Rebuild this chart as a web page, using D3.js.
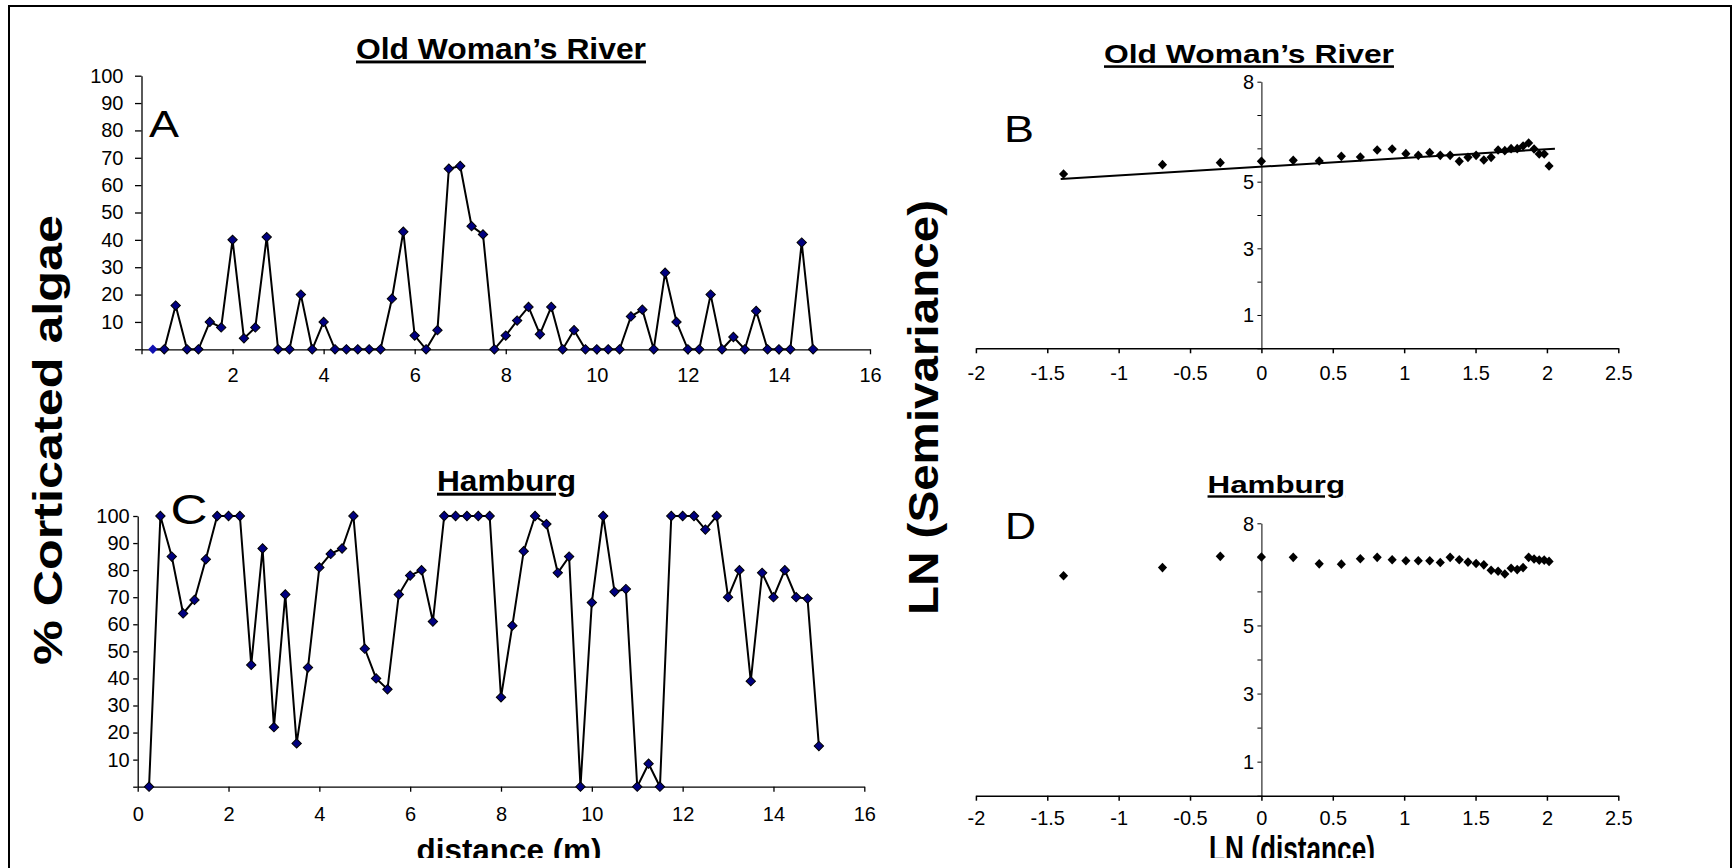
<!DOCTYPE html>
<html><head><meta charset="utf-8">
<script src="https://cdn.jsdelivr.net/npm/d3@7"></script>
<style>
body{margin:0;background:#fff;}
svg{display:block;}
text{font-family:"Liberation Sans",Arial,Helvetica,sans-serif;}
</style></head><body>
<svg id="c" width="1734" height="868"></svg>
<script>
// ---------- data ----------
const distA = [0.25,0.5,0.75,1,1.25,1.5,1.75,2,2.25,2.5,2.75,3,3.25,3.5,3.75,4,4.25,4.5,4.75,5,5.25,5.5,5.75,6,6.25,6.5,6.75,7,7.25,7.5,7.75,8,8.25,8.5,8.75,9,9.25,9.5,9.75,10,10.25,10.5,10.75,11,11.25,11.5,11.75,12,12.25,12.5,12.75,13,13.25,13.5,13.75,14,14.25,14.5,14.75];
const valA  = [0,0,16,0,0,10,8,40,4,8,41,0,0,20,0,10,0,0,0,0,0,18.5,43,5,0,7,66,67,45,42,0,5,10.5,15.5,5.5,15.5,0,7,0,0,0,0,12,14.5,0,28,10,0,0,20,0,4.5,0,14,0,0,0,39,0];
const distC = [0.25,0.5,0.75,1,1.25,1.5,1.75,2,2.25,2.5,2.75,3,3.25,3.5,3.75,4,4.25,4.5,4.75,5,5.25,5.5,5.75,6,6.25,6.5,6.75,7,7.25,7.5,7.75,8,8.25,8.5,8.75,9,9.25,9.5,9.75,10,10.25,10.5,10.75,11,11.25,11.5,11.75,12,12.25,12.5,12.75,13,13.25,13.5,13.75,14,14.25,14.5,14.75,15];
const valC  = [0,100,85,64,69,84,100,100,100,45,88,22,71,16,44,81,86,88,100,51,40,36,71,78,80,61,100,100,100,100,100,33,59.5,87,100,97,79,85,0,68,100,72,73,0,8.5,0,100,100,100,95,100,70,80,39,79,70,80,70,69.5,15];
const lnDist = [-1.386,-0.693,-0.288,0,0.223,0.405,0.560,0.693,0.811,0.916,1.012,1.099,1.179,1.253,1.322,1.386,1.447,1.504,1.558,1.609,1.658,1.705,1.749,1.792,1.833,1.872,1.910,1.946,1.981,2.015];
const semivarB = [5.23,5.51,5.57,5.61,5.64,5.62,5.76,5.74,5.95,5.98,5.84,5.79,5.87,5.79,5.79,5.61,5.73,5.79,5.65,5.73,5.95,5.93,5.99,5.99,6.07,6.16,5.98,5.83,5.83,5.47];
const semivarD = [6.46,6.70,7.03,7.01,7.00,6.81,6.80,6.96,7.00,6.93,6.90,6.90,6.90,6.85,7.00,6.93,6.86,6.82,6.78,6.62,6.59,6.51,6.68,6.64,6.70,7.00,6.95,6.92,6.92,6.88];
const trendBX = [-1.406, 2.056];
const trendBY = [5.08, 5.99];
const pctTicks = [0,10,20,30,40,50,60,70,80,90,100];
const distTicks = [0,2,4,6,8,10,12,14,16];
const lnTicks = [-2,-1.5,-1,-0.5,0,0.5,1,1.5,2,2.5];
const semiTicks = [0,1,2,3,4,5,6,7,8];
const semiLabels = [1,3,5,8];

// ---------- drawing ----------
const svg = d3.select("#c");
svg.append("defs").append("clipPath").attr("id","bot")
  .append("rect").attr("x",0).attr("y",0).attr("width",1734).attr("height",858);

svg.append("rect").attr("x",9).attr("y",6).attr("width",1722).attr("height",900)
  .attr("fill","none").attr("stroke","#000").attr("stroke-width",2);

function styleAxis(g, sw, fs, sx){
  g.attr("font-family",null).attr("font-size",null);
  g.selectAll("path.domain").attr("stroke","#000").attr("stroke-width",sw);
  g.selectAll(".tick line").attr("stroke","#000").attr("stroke-width",sw);
  g.selectAll(".tick text").attr("fill","#000").attr("font-size",fs)
    .attr("transform", sx ? `scale(${sx},1)` : null);
}

const sq = d3.symbol().type(d3.symbolSquare).size(44);

function leftPanel(cfg){
  const x = d3.scaleLinear().domain([0,16]).range(cfg.xr);
  const y = d3.scaleLinear().domain([0,100]).range(cfg.yr);
  const g = svg.append("g");
  const ya = d3.axisLeft(y).tickValues(pctTicks).tickFormat(d => d===0 ? "" : String(d))
      .tickSize(cfg.yts).tickPadding(cfg.ytp).tickSizeOuter(0);
  const gy = g.append("g").attr("transform",`translate(${x(0)},0)`).call(ya);
  styleAxis(gy, 1.3, 20);
  const xa = d3.axisBottom(x).tickValues(distTicks)
      .tickFormat(d => (d===0 && !cfg.zero) ? "" : String(d))
      .tickSize(5).tickPadding(cfg.xtp).tickSizeOuter(0);
  const gx = g.append("g").attr("transform",`translate(0,${y(0)})`).call(xa);
  styleAxis(gx, 1.3, 20);
  const pts = cfg.xs.map((d,i)=>[d, cfg.ys[i]]);
  g.append("path").datum(pts)
    .attr("d", d3.line().x(d=>x(d[0])).y(d=>y(d[1])))
    .attr("fill","none").attr("stroke","#000").attr("stroke-width",2);
  g.selectAll("path.m").data(pts).join("path").attr("class","m")
    .attr("d", sq)
    .attr("transform", d=>`translate(${x(d[0])},${y(d[1])}) rotate(45)`)
    .attr("fill", (d,i)=> (cfg.firstPlain && i===0) ? "#1010b0" : "#000080")
    .attr("stroke", (d,i)=> (cfg.firstPlain && i===0) ? "none" : "#000")
    .attr("stroke-width",1);
}

function rightPanel(cfg){
  const x = d3.scaleLinear().domain([-2,2.5]).range([975.9,1618.3]);
  const y = d3.scaleLinear().domain([0,8]).range(cfg.yr);
  const g = svg.append("g");
  const xa = d3.axisBottom(x).tickValues(lnTicks).tickFormat(d=>String(d))
      .tickSize(5).tickPadding(cfg.xtp).tickSizeOuter(0);
  const gx = g.append("g").attr("transform",`translate(0,${y(0)})`).call(xa);
  styleAxis(gx, 1.5, 21, 0.95);
  const ya = d3.axisLeft(y).tickValues(semiTicks)
      .tickFormat(d => semiLabels.includes(d) ? String(d) : "")
      .tickSize(4).tickPadding(3.8).tickSizeOuter(0);
  const gy = g.append("g").attr("transform",`translate(${x(0)},0)`).call(ya);
  styleAxis(gy, 1, 21, 0.95);
  if (cfg.tx){
    g.append("path").datum(cfg.tx.map((d,i)=>[d,cfg.ty[i]]))
      .attr("d", d3.line().x(d=>x(d[0])).y(d=>y(d[1])))
      .attr("fill","none").attr("stroke","#000").attr("stroke-width",2);
  }
  const pts = cfg.xs.map((d,i)=>[d, cfg.ys[i]]);
  g.selectAll("path.m").data(pts).join("path").attr("class","m")
    .attr("d", d3.symbol().type(d3.symbolSquare).size(42))
    .attr("transform", d=>`translate(${x(d[0])},${y(d[1])}) scale(1,1.05) rotate(45)`)
    .attr("fill","#000");
}

leftPanel({xr:[141.5,870], yr:[349.3,75.7], xs:distA, ys:valA, yts:6.5, ytp:11.5, xtp:14, zero:false, firstPlain:true});
leftPanel({xr:[137.7,864.3], yr:[786.7,516], xs:distC, ys:valC, yts:4.5, ytp:3.5, xtp:15, zero:true});
rightPanel({yr:[348.3,81.7], xs:lnDist, ys:semivarB, xtp:12, tx:trendBX, ty:trendBY});
rightPanel({yr:[795.7,523.3], xs:lnDist, ys:semivarD, xtp:9.5});

// ---------- texts ----------
function txt(o){
  const t = svg.append("text").attr("x",o.x).attr("y",o.y)
    .attr("font-size",o.fs).attr("font-weight",o.bold?"bold":"normal")
    .attr("text-anchor",o.anchor||"middle").attr("fill","#000").text(o.s);
  if (o.len) t.attr("textLength",o.len).attr("lengthAdjust","spacingAndGlyphs");
  if (o.ul) t.style("text-decoration","underline");
  if (o.rot) t.attr("transform",`rotate(-90,${o.x},${o.y})`);
  if (o.clip) t.attr("clip-path","url(#bot)");
  return t;
}
txt({s:"Old Woman’s River", x:501, y:58.5, fs:29, bold:true, len:290, ul:true});
txt({s:"Hamburg", x:506.5, y:490.7, fs:30, bold:true, len:139, ul:true});
txt({s:"Old Woman’s River", x:1249, y:63.3, fs:25.5, bold:true, len:290, ul:true});
txt({s:"Hamburg", x:1276.3, y:493.3, fs:24, bold:true, len:137.5, ul:true});

txt({s:"A", x:149, y:137.3, fs:36, len:30, anchor:"start"});
txt({s:"C", x:170.5, y:524, fs:43, len:37, anchor:"start"});
txt({s:"B", x:1004, y:141.7, fs:37, len:30, anchor:"start"});
txt({s:"D", x:1005, y:539, fs:36, len:31, anchor:"start"});

txt({s:"% Corticated algae", x:62, y:440, fs:40, bold:true, len:450, rot:true});
txt({s:"LN (Semivariance)", x:938, y:407.5, fs:42, bold:true, len:415, rot:true});

txt({s:"distance (m)", x:509, y:861, fs:31, bold:true, len:185, clip:true});
txt({s:"LN (distance)", x:1292, y:861.5, fs:36, bold:true, len:166, clip:true});
</script>
</body></html>
